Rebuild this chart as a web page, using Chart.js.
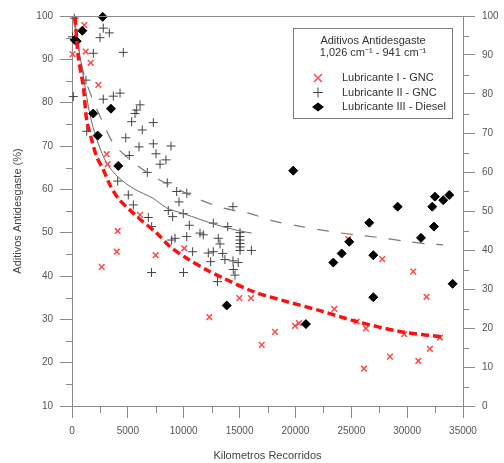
<!DOCTYPE html>
<html>
<head>
<meta charset="utf-8">
<script src="https://cdn.jsdelivr.net/npm/chart.js@4.4.1/dist/chart.umd.min.js"></script>
<style>
  html, body { margin: 0; padding: 0; background: #fff; }
</style>
</head>
<body>
<canvas id="chart" width="504" height="463"></canvas>
<script>
'use strict';

// Axis ticks
const xTicks = [0, 5000, 10000, 15000, 20000, 25000, 30000, 35000];
const xMinor = [2500, 7500, 12500, 17500, 22500, 27500, 32500];
const leftTicks = [10, 20, 30, 40, 50, 60, 70, 80, 90, 100];
const leftMinor = [15, 25, 35, 45, 55, 65, 75, 85, 95];
const rightTicks = [0, 10, 20, 30, 40, 50, 60, 70, 80, 90, 100];
const rightMinor = [5, 15, 25, 35, 45, 55, 65, 75, 85, 95];

// Lubricante I - GNC (red x)
const lub1Km = [1100, 60, 1225, 1670, 2360, 3100, 3190, 6090, 4090, 4000, 7490, 2660, 10050, 14980, 16020, 12290,
    18170, 16980, 19960, 20320, 23480, 25480, 26310, 29740, 32940, 26130, 28460, 31000, 32040, 31740, 30550, 27770, 24730];
const lub1Pct = [97.9, 91.2, 91.8, 89.2, 84.1, 68.1, 65.8, 54.1, 50.4, 45.6, 44.8, 42.1, 46.4, 34.9, 34.9, 30.5,
    27.1, 24.1, 28.5, 29.1, 32.4, 29.5, 27.9, 26.6, 25.8, 18.6, 21.4, 20.4, 23.2, 35.2, 41.0, 43.9, 48.5];

// Lubricante II - GNC (plus)
const lub2Km = [205, 2800, 3340, 2510, 50, 1910, 4590, 1250, 120, 2800, 3700, 4300, 6090, 5790, 5640, 5340, 7280, 6290,
    4810, 6000, 7280, 8860, 7520, 5130, 7880, 8410, 6740, 8530, 4090, 1320, 5040, 9370, 10270, 9580, 8620, 9010, 9960,
    14410, 5490, 6830, 7130, 10500, 12650, 13940, 11460, 11750, 10270, 8920, 9220, 13090, 13250, 10800, 12200, 12650,
    12410, 13490, 13690, 15040, 15040, 15040, 15040, 15040, 15040, 16060, 14880, 14410, 14440, 14590, 13020, 9980, 7120];
const lub2Pct = [99.5, 97.2, 96.1, 95.0, 95.2, 91.4, 91.6, 85.2, 81.4, 80.8, 81.5, 82.2, 79.5, 78.3, 77.5, 75.6, 75.4, 73.7,
    71.9, 69.8, 70.5, 70.0, 68.2, 67.8, 65.8, 66.8, 63.9, 61.5, 61.9, 73.4, 58.7, 59.5, 59.1, 57.1, 55.1, 53.7, 54.4,
    56.0, 56.4, 53.5, 51.4, 51.7, 52.2, 51.4, 49.9, 49.5, 49.1, 48.3, 48.7, 48.7, 47.4, 45.6, 45.3, 45.6,
    43.3, 45.2, 43.8, 50.0, 49.1, 48.3, 47.5, 46.7, 45.9, 45.9, 43.1, 43.5, 41.5, 40.2, 38.7, 40.8, 40.8];

// Lubricante III - Diesel (diamond)
const lub3Km = [2750, 925, 420, 240, 1900, 3490, 2300, 4140, 13850, 23390, 20940, 26610, 29150, 32490, 32250, 33230,
    33770, 32400, 31240, 26970, 26970, 34070, 24140, 24820, 19800];
const lub3Pct = [99.8, 96.6, 94.2, 94.5, 77.5, 78.6, 72.4, 65.4, 33.2, 43.1, 28.9, 52.3, 56.0, 58.3, 56.0, 57.5,
    58.7, 51.4, 48.8, 44.8, 35.1, 38.2, 45.2, 47.9, 64.3];

// Fitted curves
const fit1Km = [270, 564, 1011, 1316, 1763, 2211, 2802, 3401, 4144, 5191, 6086, 7581, 8771, 10266, 12057, 13543,
    16228, 19218, 22202, 25484, 29333, 33235];
const fit1Pct = [99.8, 90.6, 83.7, 76.0, 71.4, 67.5, 64.5, 61.0, 57.9, 55.2, 53.1, 49.9, 46.8, 44.1, 41.4, 39.5,
    36.4, 34.1, 32.0, 29.5, 27.2, 25.9];
const fit2Km = [179, 627, 1074, 1611, 2238, 3106, 4144, 5487, 7277, 8477, 9962, 12952, 14859, 16085];
const fit2Pct = [100, 92.2, 85.2, 77.2, 71.4, 66.0, 62.8, 60.2, 57.9, 55.7, 54.4, 51.8, 50.5, 49.9];
const fit3Km = [90, 537, 1074, 1763, 2658, 3697, 4896, 6382, 7698, 9220, 11457, 13543, 15781, 18171, 20561, 22799,
    25036, 27417, 29655, 31893, 33235];
const fit3Pct = [100, 93.3, 86.4, 81.3, 76.0, 70.6, 67.5, 64.5, 62.4, 60.4, 57.6, 55.7, 54.5, 52.6, 51.4, 50.4,
    49.6, 48.9, 48.1, 47.4, 47.2];

const axisColor = '#8a8a8a',
    labelColor = '#555555',
    titleColor = '#444444',
    redColor = '#ff4a4a',
    fitRed = '#ff1010',
    plusColor = '#444444';
const fontFamily = '"Liberation Sans", Arial, sans-serif';

function zip(xs, ys) {
    return xs.map(function (x, i) { return { x: x, y: ys[i] }; });
}

// minor ticks, top frame and the boxed legend
const decorPlugin = {
    id: 'decor',
    afterDraw(chart) {
        const ctx = chart.ctx, a = chart.chartArea, s = chart.scales;
        ctx.save();
        ctx.strokeStyle = axisColor;
        ctx.lineWidth = 1;
        ctx.beginPath();
        ctx.moveTo(a.left, a.top + 0.5);
        ctx.lineTo(a.right, a.top + 0.5);
        xMinor.forEach(function (v) {
            const x = Math.round(s.x.getPixelForValue(v)) + 0.5;
            ctx.moveTo(x, a.bottom);
            ctx.lineTo(x, a.bottom + 7);
        });
        leftMinor.forEach(function (v) {
            const y = Math.round(s.y.getPixelForValue(v)) + 0.5;
            ctx.moveTo(a.left - 6, y);
            ctx.lineTo(a.left, y);
        });
        rightMinor.forEach(function (v) {
            const y = Math.round(s.y2.getPixelForValue(v)) + 0.5;
            ctx.moveTo(a.right, y);
            ctx.lineTo(a.right + 6, y);
        });
        ctx.stroke();

        // legend
        ctx.fillStyle = '#fff';
        ctx.fillRect(293.5, 28.5, 159, 90);
        ctx.strokeStyle = '#7a7a7a';
        ctx.strokeRect(293.5, 28.5, 159, 90);
        ctx.fillStyle = '#333';
        ctx.font = '11px ' + fontFamily;
        ctx.textBaseline = 'middle';
        ctx.textAlign = 'center';
        ctx.fillText('Aditivos Antidesgaste', 373, 41);
        ctx.fillText('1,026 cm\u207B\u00B9 - 941 cm\u207B\u00B9', 373, 53);
        ctx.textAlign = 'left';
        ctx.fillText('Lubricante I - GNC', 342, 78);
        ctx.fillText('Lubricante II - GNC', 342, 92.5);
        ctx.fillText('Lubricante III - Diesel', 342, 107);

        ctx.strokeStyle = redColor;
        ctx.lineWidth = 1.5;
        ctx.beginPath();
        ctx.moveTo(314, 74); ctx.lineTo(322, 82);
        ctx.moveTo(322, 74); ctx.lineTo(314, 82);
        ctx.stroke();
        ctx.strokeStyle = plusColor;
        ctx.lineWidth = 1;
        ctx.beginPath();
        ctx.moveTo(313, 92.5); ctx.lineTo(323, 92.5);
        ctx.moveTo(318, 87.5); ctx.lineTo(318, 97.5);
        ctx.stroke();
        ctx.fillStyle = '#000';
        ctx.beginPath();
        ctx.moveTo(312, 107); ctx.lineTo(318, 102.5); ctx.lineTo(324, 107); ctx.lineTo(318, 111.5);
        ctx.closePath();
        ctx.fill();
        ctx.restore();
    }
};

const chart = new Chart(document.getElementById('chart'), {
    type: 'scatter',
    data: {
        datasets: [
            {
                label: 'Ajuste I',
                data: zip(fit1Km, fit1Pct),
                showLine: true,
                borderColor: fitRed,
                borderWidth: 3.5,
                borderDash: [8, 4],
                pointRadius: 0,
                tension: 0.3,
                order: 0
            },
            {
                label: 'Lubricante III - Diesel',
                data: zip(lub3Km, lub3Pct),
                pointStyle: 'rectRot',
                radius: 4.5,
                backgroundColor: '#000',
                borderColor: '#000',
                borderWidth: 1,
                clip: false,
                order: 1
            },
            {
                label: 'Lubricante I - GNC',
                data: zip(lub1Km, lub1Pct),
                pointStyle: 'crossRot',
                radius: 4,
                borderColor: redColor,
                borderWidth: 1.5,
                clip: false,
                order: 2
            },
            {
                label: 'Ajuste II',
                data: zip(fit2Km, fit2Pct),
                showLine: true,
                borderColor: '#6a6a6a',
                borderWidth: 1,
                pointRadius: 0,
                tension: 0.3,
                order: 3
            },
            {
                label: 'Ajuste III',
                data: zip(fit3Km, fit3Pct),
                showLine: true,
                borderColor: '#7a7a7a',
                borderWidth: 1.2,
                borderDash: [12, 12],
                pointRadius: 0,
                tension: 0.3,
                order: 3
            },
            {
                label: 'Lubricante II - GNC',
                data: zip(lub2Km, lub2Pct),
                pointStyle: 'cross',
                radius: 4.5,
                borderColor: plusColor,
                borderWidth: 1,
                clip: false,
                order: 4
            }
        ]
    },
    options: {
        responsive: false,
        animation: false,
        layout: { padding: { top: 16, left: 0, right: 0, bottom: 0 } },
        plugins: {
            legend: { display: false },
            tooltip: { enabled: false }
        },
        scales: {
            x: {
                type: 'linear',
                min: 0,
                max: 35000,
                afterBuildTicks: function (s) { s.ticks = xTicks.map(function (v) { return { value: v }; }); },
                afterFit: function (s) { s.height = 57; },
                grid: { drawOnChartArea: false, tickLength: 12, tickColor: axisColor },
                border: { display: true, color: axisColor },
                ticks: {
                    color: labelColor,
                    font: { family: fontFamily, size: 10 },
                    padding: 7,
                    maxRotation: 0,
                    autoSkip: false,
                    callback: function (v) { return String(v); }
                },
                title: {
                    display: true,
                    text: 'Kilometros Recorridos',
                    color: titleColor,
                    font: { family: fontFamily, size: 11 },
                    padding: { top: 0, bottom: 0 }
                }
            },
            y: {
                position: 'left',
                min: 10,
                max: 100,
                afterBuildTicks: function (s) { s.ticks = leftTicks.map(function (v) { return { value: v }; }); },
                afterFit: function (s) { s.width = 72; },
                grid: { drawOnChartArea: false, tickLength: 12, tickColor: axisColor },
                border: { display: true, color: axisColor },
                ticks: {
                    color: labelColor,
                    font: { family: fontFamily, size: 10 },
                    padding: 7,
                    callback: function (v) { return String(v); }
                },
                title: {
                    display: true,
                    text: 'Aditivos Antidesgaste (%)',
                    color: titleColor,
                    font: { family: fontFamily, size: 11 },
                    padding: { top: 11, bottom: 0 }
                }
            },
            y2: {
                position: 'right',
                min: 0,
                max: 100,
                afterBuildTicks: function (s) { s.ticks = rightTicks.map(function (v) { return { value: v }; }); },
                afterFit: function (s) { s.width = 41; },
                grid: { drawOnChartArea: false, tickLength: 12, tickColor: axisColor },
                border: { display: true, color: axisColor },
                ticks: {
                    color: labelColor,
                    font: { family: fontFamily, size: 10 },
                    padding: 7,
                    callback: function (v) { return String(v); }
                }
            }
        }
    },
    plugins: [decorPlugin]
});
</script>
</body>
</html>
